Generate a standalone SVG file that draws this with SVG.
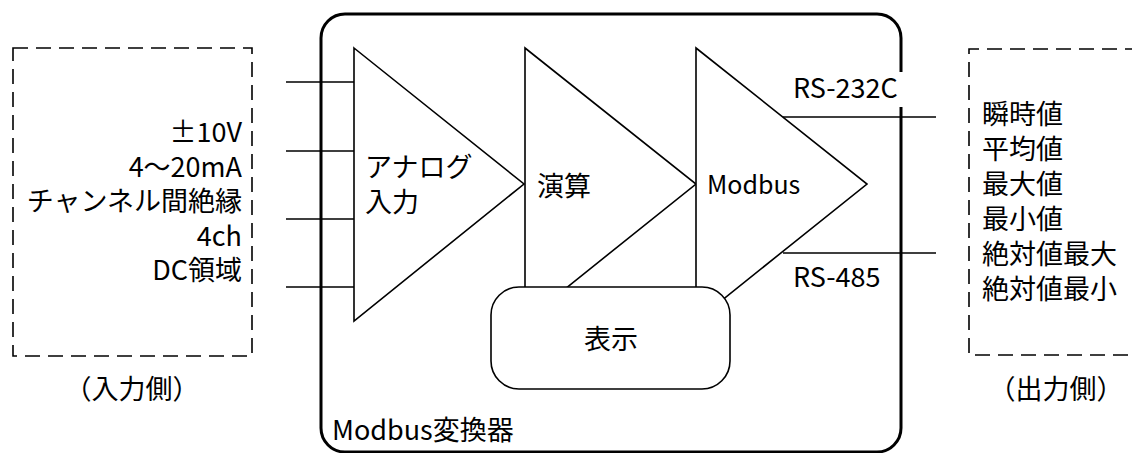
<svg xmlns="http://www.w3.org/2000/svg" width="1132" height="453" viewBox="0 0 1132 453">
<style>
text{font-family:"Noto Sans CJK JP","Liberation Sans",sans-serif;font-size:27px;fill:#000}
.sm{font-size:25px}
.dash{fill:none;stroke:#000;stroke-width:1.6;stroke-dasharray:15 8}
.ln{fill:none;stroke:#000;stroke-width:1.6}
.tri{fill:#fff;stroke:#000;stroke-width:1.6;stroke-linejoin:miter}
.end{text-anchor:end}
.mid{text-anchor:middle}
</style>
<rect width="1132" height="453" fill="#fff"/>
<g id="input-side">
<rect class="dash" x="13" y="48" width="239" height="308"/>
<text class="end" x="242" y="142">±10V</text>
<text class="end" x="242" y="176.5">4〜20mA</text>
<text class="end" x="242" y="211">チャンネル間絶縁</text>
<text class="end" x="242" y="245.5">4ch</text>
<text class="end" x="242" y="280">DC領域</text>
<text class="mid" x="132" y="399">（入力側）</text>
</g>
<g id="output-side">
<path class="dash" d="M1140 49 H969 V355 H1140"/>
<text x="982" y="124">瞬時値</text>
<text x="982" y="159">平均値</text>
<text x="982" y="194">最大値</text>
<text x="982" y="229">最小値</text>
<text x="982" y="264">絶対値最大</text>
<text x="982" y="299">絶対値最小</text>
<text class="mid" x="1056" y="399">（出力側）</text>
</g>
<g id="converter">
<rect x="321" y="14" width="580" height="438" rx="24" fill="none" stroke="#000" stroke-width="3"/>
<text x="332" y="440">Modbus変換器</text>
</g>
<g id="connectors">
<path class="ln" d="M286 82 H354 M286 151 H354 M286 219 H354 M286 287 H354"/>
<path class="ln" d="M783 117 H936 M783 253 H936"/>
</g>
<g id="analog">
<polygon class="tri" points="354,48 524,184 354,321"/>
<text x="365" y="177">アナログ</text>
<text x="365" y="212">入力</text>
</g>
<g id="calc">
<polygon class="tri" points="525,48 696,184 525,321"/>
<text x="537" y="196">演算</text>
</g>
<g id="modbus">
<polygon class="tri" points="696,48 867,184 696,321"/>
<text class="sm" x="707" y="194">Modbus</text>
</g>
<g id="display">
<rect x="491" y="287" width="239" height="102" rx="28" fill="#fff" stroke="#000" stroke-width="1.6"/>
<text class="mid" x="611" y="349">表示</text>
</g>
<g id="rs232c">
<rect x="789" y="72" width="117" height="35" fill="#fff"/>
<text x="793" y="98">RS-232C</text>
</g>
<g id="rs485">
<text x="793" y="287">RS-485</text>
</g>
</svg>
